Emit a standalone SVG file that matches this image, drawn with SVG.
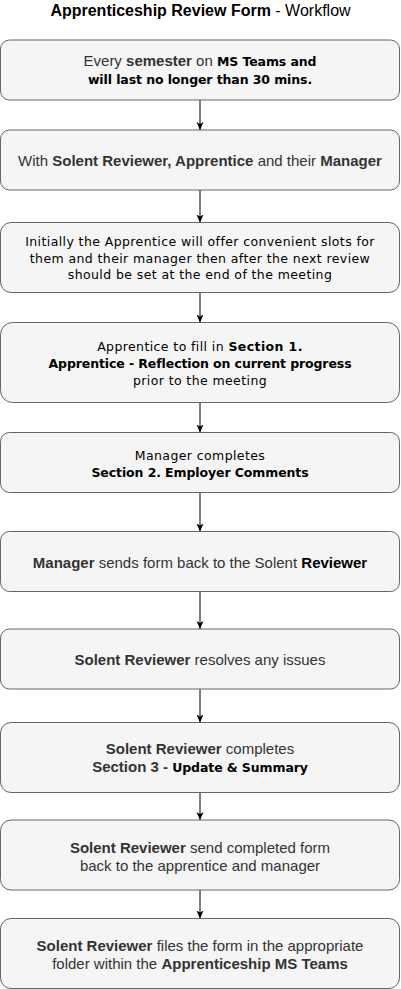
<svg xmlns="http://www.w3.org/2000/svg" width="401" height="989" viewBox="0 0 401 989">
<defs>
<style>
.box{fill:#f5f5f5;stroke:#666666;stroke-width:1}
.t{font-family:"Liberation Sans",Arial,Helvetica,sans-serif;font-size:15px;fill:#333333;text-anchor:middle}
.h{font-family:"DejaVu Sans",Verdana,sans-serif;font-size:12.5px;fill:#000000;letter-spacing:0.4px}
.b{font-weight:bold}
.h.b,.b .h{letter-spacing:-0.1px}
.title{font-family:"Liberation Sans",Arial,Helvetica,sans-serif;font-size:16px;fill:#000000;text-anchor:middle}
.edge{stroke:#000000;stroke-width:1;fill:none}
</style>
<marker id="arr" markerUnits="userSpaceOnUse" markerWidth="8" markerHeight="9" viewBox="0 0 8 9" refX="8" refY="4.5" orient="auto">
<path d="M0,1 L8,4.5 L0,8 L2,4.5 Z" fill="#000000"/>
</marker>
</defs>
<rect width="401" height="989" fill="#ffffff"/>
<g id="title">
<text class="title" x="200.5" y="16"><tspan class="b">Apprenticeship Review Form</tspan> - Workflow</text>
</g>
<g id="connectors">
<line class="edge" x1="200" y1="100" x2="200" y2="130" marker-end="url(#arr)"/>
<line class="edge" x1="200" y1="190" x2="200" y2="222.5" marker-end="url(#arr)"/>
<line class="edge" x1="200" y1="292.5" x2="200" y2="322.5" marker-end="url(#arr)"/>
<line class="edge" x1="200" y1="402.5" x2="200" y2="432.5" marker-end="url(#arr)"/>
<line class="edge" x1="200" y1="492.5" x2="200" y2="531.5" marker-end="url(#arr)"/>
<line class="edge" x1="200" y1="591.5" x2="200" y2="629" marker-end="url(#arr)"/>
<line class="edge" x1="200" y1="689" x2="200" y2="722.5" marker-end="url(#arr)"/>
<line class="edge" x1="200" y1="792.5" x2="200" y2="820" marker-end="url(#arr)"/>
<line class="edge" x1="200" y1="890" x2="200" y2="918.5" marker-end="url(#arr)"/>
</g>
<g id="n1">
<rect class="box" x="0.5" y="40" width="399" height="60" rx="9"/>
<text class="t" x="200" y="66">Every <tspan class="b">semester</tspan> on <tspan class="h b">MS Teams and</tspan></text>
<text class="t" x="200" y="83.5"><tspan class="h b">will last no longer than 30 mins.</tspan></text>
</g>
<g id="n2">
<rect class="box" x="0.5" y="130" width="399" height="60" rx="9"/>
<text class="t" x="200" y="165.5">With <tspan class="b">Solent Reviewer, Apprentice</tspan> and their <tspan class="b">Manager</tspan></text>
</g>
<g id="n3">
<rect class="box" x="0.5" y="222.5" width="399" height="70" rx="10.5"/>
<text class="t h" x="200" y="246">Initially the Apprentice will offer convenient slots for</text>
<text class="t h" x="200" y="262.7">them and their manager then after the next review</text>
<text class="t h" x="200" y="279.4">should be set at the end of the meeting</text>
</g>
<g id="n4">
<rect class="box" x="0.5" y="322.5" width="399" height="80" rx="12"/>
<text class="t h" x="200" y="350.5">Apprentice to fill in <tspan class="b">Section 1.</tspan></text>
<text class="t h b" x="200" y="367.5">Apprentice - Reflection on current progress</text>
<text class="t h" x="200" y="384.5">prior to the meeting</text>
</g>
<g id="n5">
<rect class="box" x="0.5" y="432.5" width="399" height="60" rx="9"/>
<text class="t h" x="200" y="459.5">Manager completes</text>
<text class="t h b" x="200" y="476.5">Section 2. Employer Comments</text>
</g>
<g id="n6">
<rect class="box" x="0.5" y="531.5" width="399" height="60" rx="9"/>
<text class="t" x="200" y="567.5"><tspan class="b">Manager</tspan> sends form back to the Solent <tspan class="b" fill="#000000">Reviewer</tspan></text>
</g>
<g id="n7">
<rect class="box" x="0.5" y="629" width="399" height="60" rx="9"/>
<text class="t" x="200" y="665.3"><tspan class="b">Solent Reviewer</tspan> resolves any issues</text>
</g>
<g id="n8">
<rect class="box" x="0.5" y="722.5" width="399" height="70" rx="10.5"/>
<text class="t" x="200" y="753.5"><tspan class="b">Solent Reviewer</tspan> completes</text>
<text class="t b" x="200" y="771.5">Section 3 - <tspan class="h">Update &amp; Summary</tspan></text>
</g>
<g id="n9">
<rect class="box" x="0.5" y="820" width="399" height="70" rx="10.5"/>
<text class="t" x="200" y="852.5"><tspan class="b">Solent Reviewer</tspan> send completed form</text>
<text class="t" x="200" y="870.5">back to the apprentice and manager</text>
</g>
<g id="n10">
<rect class="box" x="0.5" y="918.5" width="399" height="70" rx="10.5"/>
<text class="t" x="200" y="950.5"><tspan class="b">Solent Reviewer</tspan> files the form in the appropriate</text>
<text class="t" x="200" y="968.5">folder within the <tspan class="b">Apprenticeship MS Teams</tspan></text>
</g>
</svg>
